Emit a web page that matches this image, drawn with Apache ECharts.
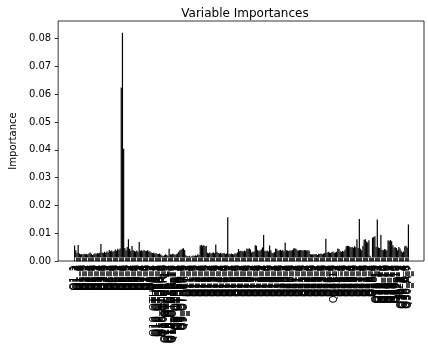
<!DOCTYPE html>
<html><head><meta charset="utf-8">
<script src="https://cdn.jsdelivr.net/npm/echarts@6/dist/echarts.min.js"></script>
<style>html,body{margin:0;padding:0;background:#fff}#c{width:428px;height:346px}</style>
</head><body><div id="c"></div>
<script>
const categories = (
 "Q1_1 Q1_2 Q1_3 Q1_4 Q1_5 Q1_6 Q1_7 Q1_8 Q1_9 " +
 "Q2_1 Q2_2 Q2_3 Q2_4 Q2_5 Q2_6 Q2_7 Q2_8 Q2_9 " +
 "Q3_1 Q3_2 Q3_3 Q3_4 Q3_5 Q3_6 Q3_7 Q3_8 Q3_9 " +
 "Q4_1 Q4_2 Q4_3 Q4_4 Q4_5 Q4_6 Q4_7 Q4_8 Q4_9 " +
 "Q5_1 Q5_2 Q5_3 Q5_4 Q5_5 Q5_6 Q5_7 Q5_8 Q5_9 " +
 "Q6_1 Q6_2 Q6_3 Q6_4 Q6_5 Q6_6 Q6_7 Q6_8 Q6_9 " +
 "Q7_1 Q7_2 Q7_3 Q7_4 Q7_5 Q7_6 Q7_7 Q7_8 Q7_9 " +
 "Q8_1 Q8_2 Q8_3 Q8_4 " +
 "Q10_OTHER_1 Q10_OTHER_2 Q10_OTHER_3 Q10_OTHER_4 Q10_OTHER_5 Q10_OTHER_6 Q10_OTHER_7 Q10_OTHER_8 Q10_OTHER_9 " +
 "Q10_OTHER_10 Q10_OTHER_11 Q10_OTHER_12 Q10_OTHER_13 Q10_OTHER_14 Q10_OTHER_15 Q10_OTHER_16 Q10_OTHER_17 " +
 "Q9_OTHER_1 Q9_OTHER_2 Q9_OTHER_3 Q9_OTHER_4 Q9_OTHER_5 Q9_OTHER_6 Q9_OTHER_7 Q9_OTHER_8 Q9_OTHER_9 " +
 "Q11_1 Q11_2 Q11_3 Q11_4 Q11_5 Q11_6 Q11_7 Q11_8 Q11_9 " +
 "Q12_1 Q12_2 Q12_3 Q12_4 Q12_5 Q12_6 Q12_7 Q12_8 Q12_9 " +
 "Q13_1 Q13_2 Q13_3 Q13_4 Q13_5 Q13_6 Q13_7 Q13_8 Q13_9 " +
 "Q14_1 Q14_2 Q14_3 Q14_4 Q14_5 Q14_6 Q14_7 Q14_8 Q14_9 " +
 "Q15_1 Q15_2 Q15_3 Q15_4 Q15_5 Q15_6 Q15_7 Q15_8 Q15_9 " +
 "Q16_1 Q16_2 Q16_3 Q16_4 Q16_5 Q16_6 Q16_7 Q16_8 Q16_9 " +
 "Q17_1 Q17_2 Q17_3 Q17_4 Q17_5 Q17_6 Q17_7 Q17_8 Q17_9 " +
 "Q18_1 Q18_2 Q18_3 Q18_4 Q18_5 Q18_6 Q18_7 Q18_8 Q18_9 " +
 "Q19_1 Q19_2 Q19_3 Q19_4 Q19_5 Q19_6 Q19_7 Q19_8 Q19_9 " +
 "Q20_1 Q20_2 Q20_3 Q20_4 Q20_5 Q20_6 Q20_7 Q20_8 Q20_9 " +
 "Q21_1 Q21_2 Q21_3 Q21_4 Q21_5 Q21_6 Q21_7 Q21_8 Q21_9 " +
 "Q22_1 Q22_2 Q22_3 Q22_4 Q22_5 Q22_6 Q22_7 Q22_8 Q22_9 " +
 "Q23_1 Q23_2 Q23_3 Q23_4 Q23_5 Q23_6 Q23_7 Q23_8 Q23_9 " +
 "Q24_1 Q24_2 Q24_3 Q24_4 Q24_5 Q24_6 Q24_7 Q24_10 " +
 "Q25_1 Q25_2 Q25_3 Q25_4 Q25_5 Q25_6 Q25_7 Q25_8 Q25_9 " +
 "Q26_1 Q26_2 Q26_3 Q26_4 Q26_5 Q26_6 Q26_7 Q26_8 Q26_9 " +
 "Q27_1 Q27_2 Q27_3 Q27_4 Q27_5 Q27_6 Q27_7 Q27_8 Q27_9 " +
 "Q28_1 Q28_2 Q28_3 Q28_4 Q28_5 Q28_6 Q28_7 " +
 "Q28_10 Q28_11 Q28_12 Q28_13 Q28_14 Q28_15 Q28_16 Q28_17 Q28_18 Q28_19 " +
 "Q29_10 Q29_11 Q29_12 Q29_13 Q29_14 Q29_15 Q29_16 Q29_17 Q29_18 " +
 "Q29_1 Q29_2 " +
 "Q30_A_1 Q30_A_2 Q30_A_3 Q30_A_4 Q30_A_5 Q30_A_6 Q30_A_7"
).split(' ');

const importances = [
 0.0047,0.0030,0.0021,0.0049,0.0018,0.0015,0.0016,0.0014,0.0017,0.0015,
 0.0016,0.0014,0.0018,0.0022,0.0017,0.0013,0.0015,0.0019,0.0016,0.0020,
 0.0018,0.0021,0.0053,0.0022,0.0020,0.0024,0.0021,0.0025,0.0023,0.0031,
 0.0026,0.0029,0.0024,0.0027,0.0033,0.0028,0.0035,0.0031,0.0036,0.0623,
 0.0822,0.0400,0.0038,0.0030,0.0042,0.0070,0.0035,0.0028,0.0045,0.0030,
 0.0027,0.0025,0.0029,0.0024,0.0060,0.0028,0.0030,0.0026,0.0031,0.0028,
 0.0027,0.0030,0.0026,0.0025,0.0022,0.0020,0.0021,0.0018,0.0019,0.0017,
 0.0016,0.0018,0.0014,0.0011,0.0009,0.0012,0.0015,0.0013,0.0010,0.0035,
 0.0015,0.0014,0.0017,0.0016,0.0013,0.0015,0.0018,0.0024,0.0030,0.0032,
 0.0035,0.0037,0.0031,0.0012,0.0009,0.0007,0.0010,0.0006,0.0008,0.0011,
 0.0009,0.0012,0.0010,0.0015,0.0013,0.0047,0.0049,0.0046,0.0048,0.0044,
 0.0045,0.0021,0.0019,0.0022,0.0018,0.0020,0.0023,0.0019,0.0051,0.0024,
 0.0020,0.0018,0.0021,0.0017,0.0019,0.0020,0.0016,0.0018,0.0150,0.0017,
 0.0015,0.0018,0.0016,0.0014,0.0019,0.0017,0.0022,0.0034,0.0026,0.0028,
 0.0027,0.0025,0.0029,0.0026,0.0036,0.0034,0.0037,0.0033,0.0022,0.0024,
 0.0025,0.0048,0.0046,0.0031,0.0027,0.0029,0.0033,0.0040,0.0085,0.0028,
 0.0026,0.0029,0.0025,0.0047,0.0030,0.0021,0.0019,0.0023,0.0036,0.0034,
 0.0027,0.0030,0.0032,0.0028,0.0031,0.0026,0.0058,0.0030,0.0029,0.0027,
 0.0030,0.0028,0.0031,0.0036,0.0037,0.0035,0.0030,0.0029,0.0030,0.0031,
 0.0030,0.0029,0.0031,0.0030,0.0029,0.0030,0.0028,0.0016,0.0014,0.0015,
 0.0014,0.0016,0.0015,0.0013,0.0017,0.0016,0.0018,0.0015,0.0017,0.0020,
 0.0072,0.0021,0.0024,0.0022,0.0020,0.0023,0.0025,0.0021,0.0022,0.0024,
 0.0036,0.0034,0.0026,0.0024,0.0027,0.0025,0.0032,0.0044,0.0046,0.0045,
 0.0043,0.0040,0.0042,0.0039,0.0044,0.0041,0.0070,0.0038,0.0144,0.0035,
 0.0030,0.0045,0.0068,0.0070,0.0062,0.0058,0.0066,0.0010,0.0004,0.0075,
 0.0078,0.0081,0.0042,0.0142,0.0040,0.0038,0.0085,0.0032,0.0030,0.0034,
 0.0033,0.0029,0.0066,0.0064,0.0067,0.0063,0.0048,0.0040,0.0041,0.0038,
 0.0030,0.0042,0.0036,0.0028,0.0022,0.0025,0.0044,0.0046,0.0040,0.0124
];

const yTicks = [0, 0.01, 0.02, 0.03, 0.04, 0.05, 0.06, 0.07, 0.08];

const YMAX = Math.max.apply(null, importances) * 1.05;
const FONT = 'DejaVu Sans';

const chart = echarts.init(document.getElementById('c'), null, {renderer: 'canvas'});
chart.setOption({
  animation: false,
  backgroundColor: '#fff',
  textStyle: {fontFamily: FONT},
  title: {
    text: 'Variable Importances', left: 240, top: 3, textAlign: 'center',
    textStyle: {fontFamily: FONT, fontSize: 12, fontWeight: 'normal', color: '#000'}
  },
  grid: [
    {left: 57, right: 4, top: 21, bottom: 85, show: true, borderColor: '#000', borderWidth: 0.8, backgroundColor: 'transparent'},
    {left: 74, right: 19, top: 21, bottom: 85}
  ],
  xAxis: [
    {type: 'value', gridIndex: 0, show: false, min: 0, max: 1},
    {type: 'category', gridIndex: 1, data: categories, boundaryGap: true,
     axisLine: {show: false},
     axisTick: {show: true, interval: 0, alignWithLabel: true, length: 3.5, lineStyle: {color: '#000', width: 0.8}},
     axisLabel: {show: true, interval: 0, rotate: 90, margin: 7, fontSize: 10, color: '#000', fontFamily: FONT},
     splitLine: {show: false}}
  ],
  yAxis: [
    {type: 'value', gridIndex: 0, min: 0, max: YMAX,
     axisLine: {show: false},
     axisTick: {show: true, length: 3.5, customValues: yTicks, lineStyle: {color: '#000', width: 0.8}},
     axisLabel: {show: true, customValues: yTicks, margin: 7, fontSize: 10, color: '#000', fontFamily: FONT,
                 formatter: v => v.toFixed(2)},
     splitLine: {show: false},
     name: 'Importance', nameLocation: 'middle', nameGap: 38, nameRotate: 90,
     nameTextStyle: {fontSize: 10, color: '#000', fontFamily: FONT}},
    {type: 'value', gridIndex: 1, min: 0, max: YMAX, show: false, splitLine: {show: false}}
  ],
  series: [{
    type: 'bar', xAxisIndex: 1, yAxisIndex: 1, data: importances,
    barCategoryGap: '10%',
    itemStyle: {color: '#000', borderColor: '#000', borderWidth: 1.2}
  }]
});
</script>
</body></html>
